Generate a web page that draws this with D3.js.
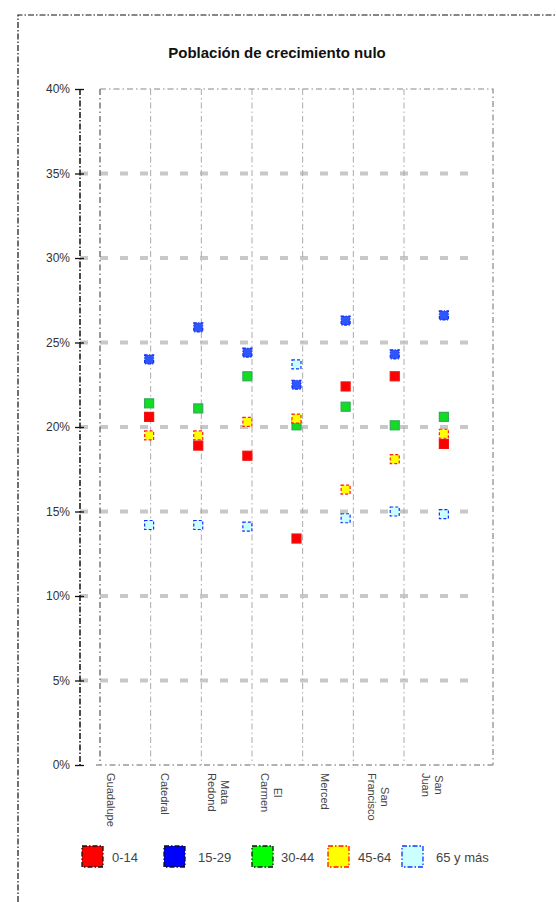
<!DOCTYPE html>
<html><head><meta charset="utf-8">
<script src="https://cdn.jsdelivr.net/npm/d3@7/dist/d3.min.js"></script>
<style>
html,body{margin:0;padding:0;background:#fff;}
svg{display:block;font-family:"Liberation Sans",Arial,sans-serif;}
</style></head>
<body>
<svg id="c" width="556" height="902"></svg>
<script>
const title = "Población de crecimiento nulo";
const categories = [["Guadalupe"],["Catedral"],["Mata","Redond"],["El","Carmen"],["Merced"],["San","Francisco"],["San","Juan"]];
const seriesNames = ["0-14","15-29","30-44","45-64","65 y más"];
const s0_14   = [20.6, 18.9, 18.3, 13.4, 22.4, 23.0, 19.0];
const s15_29  = [24.0, 25.9, 24.4, 22.5, 26.3, 24.3, 26.6];
const s30_44  = [21.4, 21.1, 23.0, 20.1, 21.2, 20.1, 20.6];
const s45_64  = [19.5, 19.5, 20.3, 20.5, 16.3, 18.1, 19.6];
const s65     = [14.2, 14.2, 14.1, 23.7, 14.6, 15.0, 14.85];
const yTicks  = [0,5,10,15,20,25,30,35,40];
const seriesValues = [s0_14, s15_29, s30_44, s45_64, s65];
const fills   = ["#ff0000","#2f55ff","#11dd22","#ffff00","#ccffff"];
const strokes = ["#ee1111","#1030ee","#33aa55","#ff2020","#1133ff"];
const dashes  = [null,"3,1.5,1,1.5",null,"3,2","3,2"];
const legFills = ["#ff0000","#0000ff","#00ff00","#ffff00","#ccffff"];
const legStrokes = ["#111","#111","#111","#ff1010","#1133ff"];

const svg = d3.select("#c");
// outer border
svg.append("path").attr("d","M18,902 L18,15 L556,15").attr("fill","none")
  .attr("stroke","#111").attr("stroke-width",1.2).attr("stroke-dasharray","6,2,1.5,2");

svg.append("text").attr("x",277).attr("y",58).attr("text-anchor","middle")
  .attr("font-size","15px").attr("font-weight","bold").attr("fill","#111").text(title);

const y = d3.scaleLinear().domain([0,40]).range([765,89]);
const x = d3.scalePoint().domain(d3.range(categories.length+2)).range([100,493]);
const gx = d3.scaleLinear().domain([0,6]).range([100,404]);
const lx = d3.scalePoint().domain(d3.range(categories.length)).range([111,432]);

// horizontal dashed gridlines
svg.append("g").selectAll("line").data(yTicks.filter(t=>t>0 && t<40)).join("line")
  .attr("x1",80).attr("x2",472).attr("y1",d=>y(d)).attr("y2",d=>y(d))
  .attr("stroke","#c8c8c8").attr("stroke-width",4).attr("stroke-dasharray","8,12");

// vertical dash-dot gridlines
svg.append("g").selectAll("line").data(d3.range(1,7)).join("line")
  .attr("x1",d=>gx(d)).attr("x2",d=>gx(d)).attr("y1",y(40)).attr("y2",y(0))
  .attr("stroke","#aaa").attr("stroke-width",1).attr("stroke-dasharray","6,3,1.5,3");
// plot frame
svg.append("line").attr("x1",100).attr("x2",100).attr("y1",y(40)).attr("y2",y(0))
  .attr("stroke","#555").attr("stroke-width",1.2).attr("stroke-dasharray","6,3,1.5,3");
svg.append("path").attr("d",`M100,${y(40)} L493,${y(40)} L493,${y(0)}`).attr("fill","none")
  .attr("stroke","#888").attr("stroke-width",1.2).attr("stroke-dasharray","6,3,1.5,3");
svg.append("line").attr("x1",96).attr("x2",493).attr("y1",y(0)).attr("y2",y(0))
  .attr("stroke","#999").attr("stroke-width",1.5).attr("stroke-dasharray","6,3,1.5,3");

// y axis
const ya = svg.append("g").attr("transform","translate(80,0)")
  .call(d3.axisLeft(y).tickValues(yTicks).tickFormat(d=>d+"%").tickSize(5).tickPadding(5));
ya.select(".domain").attr("stroke","#111").attr("stroke-width",1.5).attr("stroke-dasharray","6,2,1.5,2").attr("d",`M0,${y(40)}V${y(0)}`);
ya.selectAll(".tick line").attr("stroke","#111").attr("stroke-width",1.3).attr("x1",4);
ya.selectAll(".tick text").attr("font-size","12px").attr("fill","#333").attr("font-family","Liberation Sans, Arial, sans-serif");

// x labels (rotated, first line on the right, lines centred on each other)
const xl = svg.append("g").selectAll("g").data(categories).join("g")
  .attr("transform",(d,i)=>`translate(${lx(i)},773) rotate(90)`);
xl.each(function(lines){
  const g = d3.select(this);
  const n = lines.length;
  const texts = lines.map((t,k)=>g.append("text").attr("y",(k-(n-1)/2)*13+4)
      .attr("font-size","11px").attr("fill","#444").attr("text-anchor","middle").text(t));
  const maxW = d3.max(texts, t=>t.node().getComputedTextLength());
  texts.forEach(t=>t.attr("x",maxW/2));
});

// markers
const ms = 9;
seriesValues.forEach((vals,si)=>{
  svg.append("g").selectAll("rect").data(vals).join("rect")
    .attr("x",(d,i)=>x(i+1)-ms/2).attr("y",d=>y(d)-ms/2)
    .attr("width",ms).attr("height",ms)
    .attr("fill",fills[si]).attr("stroke",strokes[si]).attr("stroke-width",1.2)
    .attr("stroke-dasharray",dashes[si]);
});

// legend
const legX = [82,164,252,328,402];
const lg = svg.append("g").selectAll("g").data(seriesNames).join("g")
  .attr("transform",(d,i)=>`translate(${legX[i]},846)`);
lg.append("rect").attr("width",21).attr("height",21)
  .attr("fill",(d,i)=>legFills[i]).attr("stroke",(d,i)=>legStrokes[i]).attr("stroke-width",1.3)
  .attr("stroke-dasharray","5,2,1.5,2");
lg.append("text").attr("x",(d,i)=>[30,34,29,30,34][i]).attr("y",15.5)
  .attr("font-size","13px").attr("fill","#444").text(d=>d);
</script>
</body></html>
